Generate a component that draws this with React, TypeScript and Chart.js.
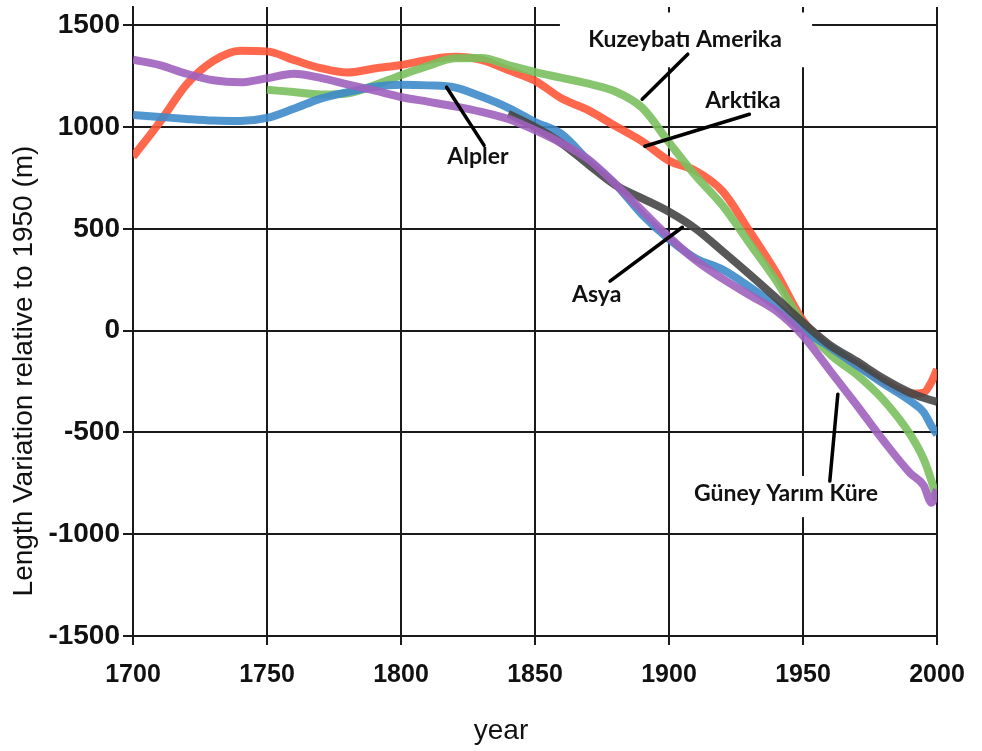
import React, { useEffect, useRef } from "react";
import { Chart, registerables } from "chart.js";

Chart.register(...registerables);

// ---- data ----
const years = [1700, 1710, 1720, 1730, 1740, 1750, 1760, 1770, 1780, 1790, 1800, 1810, 1820, 1830, 1840, 1850, 1860, 1870, 1880, 1890, 1900, 1910, 1920, 1930, 1940, 1950, 1960, 1970, 1980, 1990, 1995, 1998, 2000];

const arktika = [854, 1025, 1210, 1325, 1375, 1372, 1330, 1290, 1268, 1288, 1305, 1330, 1345, 1330, 1280, 1228, 1140, 1082, 1005, 930, 835, 785, 685, 490, 285, 50, -85, -165, -250, -310, -305, -250, -190];

const kuzeybatiAmerika = [null, null, null, null, null, 1184, 1172, 1160, 1165, 1205, 1255, 1300, 1338, 1340, 1305, 1270, 1242, 1213, 1175, 1095, 925, 760, 615, 430, 245, 35, -115, -215, -340, -510, -630, -740, -830];

const alpler = [1060, 1050, 1040, 1032, 1030, 1045, 1090, 1140, 1172, 1198, 1208, 1205, 1195, 1150, 1095, 1025, 965, 835, 720, 570, 450, 355, 300, 215, 120, 5, -80, -170, -260, -345, -400, -470, -510];

const asya = [null, null, null, null, null, null, null, null, null, null, null, null, null, null, 1065, 1000, 920, 815, 715, 650, 584, 500, 390, 277, 160, 40, -70, -150, -235, -305, -330, -342, -350];

const guneyYarimKure = [1331, 1305, 1262, 1230, 1220, 1240, 1262, 1242, 1210, 1180, 1148, 1125, 1102, 1075, 1040, 985, 920, 840, 720, 590, 460, 345, 255, 175, 97, -25, -195, -365, -540, -700, -760, -845, -780];

const xTicks = [1700, 1750, 1800, 1850, 1900, 1950, 2000];
const yTicks = [-1500, -1000, -500, 0, 500, 1000, 1500];

// annotation labels (data coordinates)
const labelTexts = ["Kuzeybatı Amerika", "Arktika", "Alpler", "Asya", "Güney Yarım Küre"];
const labelAt = [
  [1906, 1431],
  [1927.6, 1131],
  [1828.7, 857],
  [1873, 179],
  [1943.7, -798],
];
const leaders = [
  [1890, 1137, 1907, 1358],
  [1891, 906, 1930, 1063],
  [1817, 1196, 1831, 910],
  [1878, 243, 1905, 508],
  [1963, -312, 1960, -739],
];
const whiteBoxes = [
  [1859.3, 1563, 1953.4, 1294],
  [1907.8, -714, 1978.7, -916],
];

const series = [
  { label: "Güney Yarım Küre", values: guneyYarimKure, color: "rgba(160,98,190,0.9)" },
  { label: "Asya", values: asya, color: "rgba(70,70,70,0.9)" },
  { label: "Alpler", values: alpler, color: "rgba(62,139,202,0.9)" },
  { label: "Kuzeybatı Amerika", values: kuzeybatiAmerika, color: "rgba(122,192,94,0.9)" },
  { label: "Arktika", values: arktika, color: "rgba(255,88,58,0.9)" },
];

const annotationPlugin = {
  id: "glacierLabels",
  beforeDatasetsDraw(chart: any) {
    const { ctx, scales } = chart;
    const x = scales.x, y = scales.y;
    ctx.save();
    ctx.fillStyle = "#ffffff";
    for (const b of whiteBoxes) {
      const x0 = x.getPixelForValue(b[0]);
      const y0 = y.getPixelForValue(b[1]);
      const x1 = x.getPixelForValue(b[2]);
      const y1 = y.getPixelForValue(b[3]);
      ctx.fillRect(x0, y0, x1 - x0, y1 - y0);
    }
    ctx.restore();
  },
  afterDatasetsDraw(chart: any) {
    const { ctx, scales } = chart;
    const x = scales.x, y = scales.y;
    ctx.save();
    ctx.strokeStyle = "#000";
    ctx.lineWidth = 3.5;
    ctx.lineCap = "round";
    for (const l of leaders) {
      ctx.beginPath();
      ctx.moveTo(x.getPixelForValue(l[0]), y.getPixelForValue(l[1]));
      ctx.lineTo(x.getPixelForValue(l[2]), y.getPixelForValue(l[3]));
      ctx.stroke();
    }
    ctx.fillStyle = "#111";
    ctx.font = "bold 23px Lato, 'Open Sans', sans-serif";
    ctx.textAlign = "center";
    ctx.textBaseline = "middle";
    labelTexts.forEach((t, i) => {
      ctx.fillText(t, x.getPixelForValue(labelAt[i][0]), y.getPixelForValue(labelAt[i][1]));
    });
    ctx.restore();
  },
  afterDraw(chart: any) {
    const { ctx, chartArea } = chart;
    ctx.save();
    ctx.fillStyle = "#111";
    ctx.font = "28px 'Liberation Sans', Arial, sans-serif";
    ctx.textAlign = "center";
    ctx.textBaseline = "alphabetic";
    ctx.fillText("year", chartArea.left + 368, chartArea.bottom + 103);
    ctx.translate(32, chartArea.top + 364);
    ctx.rotate(-Math.PI / 2);
    ctx.fillText("Length Variation relative to 1950 (m)", 0, 0);
    ctx.restore();
  },
};

export default function App() {
  const ref = useRef<HTMLCanvasElement | null>(null);
  useEffect(() => {
    const canvas = ref.current;
    if (!canvas) return;
    const chart = new Chart(canvas, {
      type: "line",
      data: {
        datasets: series.map((s) => ({
          label: s.label,
          data: years.map((yr, i) => ({ x: yr, y: s.values[i] as any })),
          borderColor: s.color,
          backgroundColor: s.color,
          borderWidth: 8,
          pointRadius: 0,
          fill: false,
          cubicInterpolationMode: "monotone" as const,
          borderCapStyle: "butt" as const,
          spanGaps: false,
        })),
      },
      options: {
        responsive: false,
        devicePixelRatio: 1,
        animation: false,
        layout: { padding: { top: 7, right: 45, left: 0, bottom: 0 } },
        plugins: { legend: { display: false }, tooltip: { enabled: false }, title: { display: false } },
        scales: {
          x: {
            type: "linear",
            min: 1700,
            max: 2000,
            afterBuildTicks: (s: any) => { s.ticks = xTicks.map((v) => ({ value: v })); },
            afterFit: (s: any) => { s.height = 115; s.paddingLeft = 0; s.paddingRight = 0; },
            grid: { color: "#1a1a1a", lineWidth: 2, tickLength: 9, drawTicks: true },
            border: { display: true, color: "#1a1a1a", width: 2 },
            ticks: {
              color: "#111",
              padding: 15,
              maxRotation: 0,
              callback: (v: any) => String(v),
              font: { family: "'Liberation Sans', Arial", size: 25, weight: "bold" },
            },
          },
          y: {
            type: "linear",
            min: -1500,
            max: 1590,
            afterBuildTicks: (s: any) => { s.ticks = yTicks.map((v) => ({ value: v })); },
            afterFit: (s: any) => { s.width = 133; s.paddingTop = 0; s.paddingBottom = 0; },
            grid: { color: "#1a1a1a", lineWidth: 2, tickLength: 10, drawTicks: true },
            border: { display: true, color: "#1a1a1a", width: 2 },
            ticks: {
              color: "#111",
              padding: 3,
              callback: (v: any) => String(v),
              font: { family: "'Liberation Sans', Arial", size: 28, weight: "bold" },
            },
          },
        },
      },
      plugins: [annotationPlugin],
    });
    return () => chart.destroy();
  }, []);
  return (
    <div style={{ position: "absolute", left: 0, top: 0, width: 982, height: 751, background: "#fff" }}>
      <canvas ref={ref} width={982} height={751} style={{ display: "block" }} />
    </div>
  );
}
